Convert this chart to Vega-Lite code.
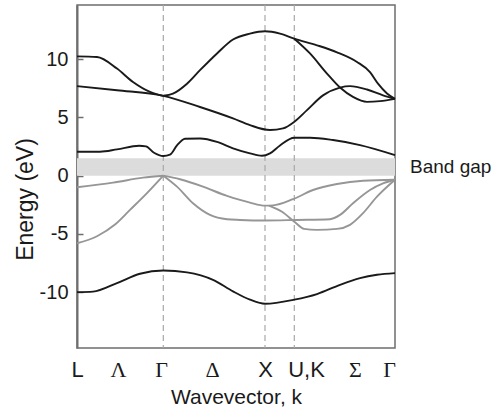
{
  "$schema": "https://vega.github.io/schema/vega-lite/v6.json",
  "width": 318,
  "height": 343,
  "autosize": {"type": "none"},
  "padding": {"left": 77, "top": 5, "right": 105, "bottom": 61},
  "background": "white",
  "config": {
    "font": "Liberation Sans",
    "view": {"stroke": "#6e6e6e", "strokeWidth": 1.5}
  },
  "datasets": {
    "bands": [
      {"series": "c1", "type": "c", "k": 0, "e": -10.0},
      {"series": "c1", "type": "c", "k": 16, "e": -9.96},
      {"series": "c1", "type": "c", "k": 40, "e": -9.22},
      {"series": "c1", "type": "c", "k": 63, "e": -8.42},
      {"series": "c1", "type": "c", "k": 86.3, "e": -8.14},
      {"series": "c1", "type": "c", "k": 110, "e": -8.3},
      {"series": "c1", "type": "c", "k": 136, "e": -8.94},
      {"series": "c1", "type": "c", "k": 156, "e": -9.94},
      {"series": "c1", "type": "c", "k": 173, "e": -10.65},
      {"series": "c1", "type": "c", "k": 188, "e": -11.0},
      {"series": "c1", "type": "c", "k": 217.3, "e": -10.65},
      {"series": "c1", "type": "c", "k": 240, "e": -10.17},
      {"series": "c1", "type": "c", "k": 263, "e": -9.37},
      {"series": "c1", "type": "c", "k": 283, "e": -8.8},
      {"series": "c1", "type": "c", "k": 300, "e": -8.51},
      {"series": "c1", "type": "c", "k": 318, "e": -8.37},

      {"series": "c2", "type": "c", "k": 0, "e": 2.06},
      {"series": "c2", "type": "c", "k": 23, "e": 2.06},
      {"series": "c2", "type": "c", "k": 40, "e": 2.26},
      {"series": "c2", "type": "c", "k": 62, "e": 2.57},
      {"series": "c2", "type": "c", "k": 69, "e": 2.52},
      {"series": "c2", "type": "c", "k": 77, "e": 1.97},
      {"series": "c2", "type": "c", "k": 86.3, "e": 1.69},
      {"series": "c2", "type": "c", "k": 93, "e": 1.8},
      {"series": "c2", "type": "c", "k": 100, "e": 2.6},
      {"series": "c2", "type": "c", "k": 108, "e": 3.17},
      {"series": "c2", "type": "c", "k": 123, "e": 3.2},
      {"series": "c2", "type": "c", "k": 140, "e": 2.91},
      {"series": "c2", "type": "c", "k": 156, "e": 2.35},
      {"series": "c2", "type": "c", "k": 173, "e": 1.92},
      {"series": "c2", "type": "c", "k": 185, "e": 1.71},
      {"series": "c2", "type": "c", "k": 193, "e": 1.92},
      {"series": "c2", "type": "c", "k": 203, "e": 2.6},
      {"series": "c2", "type": "c", "k": 217.3, "e": 3.26},
      {"series": "c2", "type": "c", "k": 233, "e": 3.26},
      {"series": "c2", "type": "c", "k": 256, "e": 3.06},
      {"series": "c2", "type": "c", "k": 283, "e": 2.63},
      {"series": "c2", "type": "c", "k": 318, "e": 1.77},

      {"series": "c3", "type": "c", "k": 0, "e": 7.69},
      {"series": "c3", "type": "c", "k": 40, "e": 7.34},
      {"series": "c3", "type": "c", "k": 86.3, "e": 6.86},
      {"series": "c3", "type": "c", "k": 123, "e": 5.9},
      {"series": "c3", "type": "c", "k": 156, "e": 4.92},
      {"series": "c3", "type": "c", "k": 173, "e": 4.34},
      {"series": "c3", "type": "c", "k": 193, "e": 3.92},
      {"series": "c3", "type": "c", "k": 206, "e": 4.06},
      {"series": "c3", "type": "c", "k": 217.3, "e": 4.63},
      {"series": "c3", "type": "c", "k": 230, "e": 5.63},
      {"series": "c3", "type": "c", "k": 246, "e": 6.9},
      {"series": "c3", "type": "c", "k": 263, "e": 7.57},
      {"series": "c3", "type": "c", "k": 273, "e": 7.69},
      {"series": "c3", "type": "c", "k": 290, "e": 7.4},
      {"series": "c3", "type": "c", "k": 306, "e": 6.9},
      {"series": "c3", "type": "c", "k": 318, "e": 6.6},

      {"series": "c4a", "type": "c", "k": 0, "e": 10.25},
      {"series": "c4a", "type": "c", "k": 20, "e": 10.2},
      {"series": "c4a", "type": "c", "k": 40, "e": 9.2},
      {"series": "c4a", "type": "c", "k": 56, "e": 8.05},
      {"series": "c4a", "type": "c", "k": 73, "e": 7.2},
      {"series": "c4a", "type": "c", "k": 86.3, "e": 6.86},

      {"series": "c4b", "type": "c", "k": 86.3, "e": 6.86},
      {"series": "c4b", "type": "c", "k": 96, "e": 7.05},
      {"series": "c4b", "type": "c", "k": 110, "e": 7.9},
      {"series": "c4b", "type": "c", "k": 123, "e": 9.06},
      {"series": "c4b", "type": "c", "k": 140, "e": 10.5},
      {"series": "c4b", "type": "c", "k": 156, "e": 11.7},
      {"series": "c4b", "type": "c", "k": 173, "e": 12.2},
      {"series": "c4b", "type": "c", "k": 188, "e": 12.4},
      {"series": "c4b", "type": "c", "k": 203, "e": 12.2},
      {"series": "c4b", "type": "c", "k": 217.3, "e": 11.77},
      {"series": "c4b", "type": "c", "k": 240, "e": 11.2},
      {"series": "c4b", "type": "c", "k": 260, "e": 10.6},
      {"series": "c4b", "type": "c", "k": 280, "e": 9.77},
      {"series": "c4b", "type": "c", "k": 293, "e": 8.9},
      {"series": "c4b", "type": "c", "k": 301, "e": 7.9},
      {"series": "c4b", "type": "c", "k": 310, "e": 7.06},
      {"series": "c4b", "type": "c", "k": 318, "e": 6.6},

      {"series": "c4c", "type": "c", "k": 217.3, "e": 11.77},
      {"series": "c4c", "type": "c", "k": 233, "e": 10.5},
      {"series": "c4c", "type": "c", "k": 250, "e": 8.77},
      {"series": "c4c", "type": "c", "k": 263, "e": 7.57},
      {"series": "c4c", "type": "c", "k": 276, "e": 6.77},
      {"series": "c4c", "type": "c", "k": 290, "e": 6.34},
      {"series": "c4c", "type": "c", "k": 303, "e": 6.4},
      {"series": "c4c", "type": "c", "k": 318, "e": 6.6},

      {"series": "v1", "type": "v", "k": 0, "e": -1.0},
      {"series": "v1", "type": "v", "k": 36, "e": -0.6},
      {"series": "v1", "type": "v", "k": 66, "e": -0.17},
      {"series": "v1", "type": "v", "k": 86.3, "e": 0},

      {"series": "v2", "type": "v", "k": 0, "e": -5.8},
      {"series": "v2", "type": "v", "k": 20, "e": -5.2},
      {"series": "v2", "type": "v", "k": 38, "e": -4.2},
      {"series": "v2", "type": "v", "k": 53, "e": -2.94},
      {"series": "v2", "type": "v", "k": 70, "e": -1.5},
      {"series": "v2", "type": "v", "k": 86.3, "e": 0},

      {"series": "v3", "type": "v", "k": 86.3, "e": 0},
      {"series": "v3", "type": "v", "k": 103, "e": -0.31},
      {"series": "v3", "type": "v", "k": 126, "e": -0.94},
      {"series": "v3", "type": "v", "k": 150, "e": -1.74},
      {"series": "v3", "type": "v", "k": 163, "e": -2.08},
      {"series": "v3", "type": "v", "k": 173, "e": -2.31},
      {"series": "v3", "type": "v", "k": 188, "e": -2.57},
      {"series": "v3", "type": "v", "k": 196, "e": -2.55},
      {"series": "v3", "type": "v", "k": 216, "e": -2.02},
      {"series": "v3", "type": "v", "k": 236, "e": -1.23},
      {"series": "v3", "type": "v", "k": 260, "e": -0.71},
      {"series": "v3", "type": "v", "k": 286, "e": -0.43},
      {"series": "v3", "type": "v", "k": 318, "e": -0.35},

      {"series": "v4", "type": "v", "k": 86.3, "e": 0},
      {"series": "v4", "type": "v", "k": 100, "e": -0.94},
      {"series": "v4", "type": "v", "k": 116, "e": -2.37},
      {"series": "v4", "type": "v", "k": 133, "e": -3.37},
      {"series": "v4", "type": "v", "k": 150, "e": -3.74},
      {"series": "v4", "type": "v", "k": 163, "e": -3.8},
      {"series": "v4", "type": "v", "k": 188, "e": -3.85},
      {"series": "v4", "type": "v", "k": 220, "e": -3.8},
      {"series": "v4", "type": "v", "k": 253, "e": -3.74},
      {"series": "v4", "type": "v", "k": 263, "e": -3.37},
      {"series": "v4", "type": "v", "k": 276, "e": -2.37},
      {"series": "v4", "type": "v", "k": 293, "e": -1.23},
      {"series": "v4", "type": "v", "k": 306, "e": -0.66},
      {"series": "v4", "type": "v", "k": 318, "e": -0.35},

      {"series": "v5", "type": "v", "k": 192, "e": -2.57},
      {"series": "v5", "type": "v", "k": 205, "e": -3.1},
      {"series": "v5", "type": "v", "k": 218, "e": -4.0},
      {"series": "v5", "type": "v", "k": 227, "e": -4.57},
      {"series": "v5", "type": "v", "k": 240, "e": -4.65},
      {"series": "v5", "type": "v", "k": 260, "e": -4.57},
      {"series": "v5", "type": "v", "k": 273, "e": -4.22},
      {"series": "v5", "type": "v", "k": 286, "e": -3.22},
      {"series": "v5", "type": "v", "k": 300, "e": -1.8},
      {"series": "v5", "type": "v", "k": 318, "e": -0.35}
    ],
    "gap": [{"k0": 0, "k1": 318, "e0": 0, "e1": 1.5}],
    "points": [{"k": 86.3}, {"k": 188}, {"k": 217.3}],
    "label": [{"k": 318, "e": 0.75, "text": "Band gap"}]
  },
  "layer": [
    {
      "data": {"name": "gap"},
      "mark": {"type": "rect", "color": "#dcdcdc"},
      "encoding": {
        "x": {"field": "k0", "type": "quantitative",
          "scale": {"domain": [0, 318], "nice": false, "zero": false},
          "axis": {
            "values": [0, 41, 84, 135, 188, 229, 278, 312],
            "labelExpr": "datum.value == 0 ? 'L' : datum.value == 41 ? 'Λ' : datum.value == 84 ? 'Γ' : datum.value == 135 ? 'Δ' : datum.value == 188 ? 'X' : datum.value == 229 ? 'U,K' : datum.value == 278 ? 'Σ' : 'Γ'",
            "labelFont": {"condition": {"test": "datum.value == 41 || datum.value == 84 || datum.value == 135 || datum.value == 278 || datum.value == 312", "value": "Liberation Serif"}, "value": "Liberation Sans"},
            "labelFontSize": 22,
            "labelColor": "#1a1a1a",
            "labelPadding": 11,
            "labelBaseline": "top",
            "labelFlush": false,
            "labelOverlap": false,
            "labelBound": false,
            "ticks": false,
            "domain": false,
            "grid": false,
            "title": "Wavevector, k",
            "titleFontSize": 21,
            "titleFontWeight": "normal",
            "titleColor": "#1a1a1a",
            "titleBaseline": "alphabetic",
            "titleX": 159,
            "titleY": 55
          }
        },
        "x2": {"field": "k1"},
        "y": {"field": "e0", "type": "quantitative",
          "scale": {"domain": [-14.8, 14.66], "nice": false, "zero": false},
          "axis": {
            "values": [-10, -5, 0, 5, 10],
            "labelExpr": "'' + datum.value",
            "labelFontSize": 20,
            "labelColor": "#1a1a1a",
            "tickSize": -6,
            "tickColor": "#6e6e6e",
            "tickWidth": 1.5,
            "labelPadding": 15,
            "domainColor": "#6e6e6e",
            "domainWidth": 2,
            "grid": false,
            "title": "Energy (eV)",
            "titleFontSize": 23,
            "titleFontWeight": "normal",
            "titleColor": "#1a1a1a",
            "titleBaseline": "alphabetic",
            "titleAngle": -90,
            "titleX": -45,
            "titleY": 194
          }
        },
        "y2": {"field": "e1"}
      }
    },
    {
      "data": {"name": "points"},
      "mark": {"type": "rule", "color": "#a8a8a8", "strokeWidth": 1.2, "strokeDash": [6, 4]},
      "encoding": {
        "x": {"field": "k", "type": "quantitative"}
      }
    },
    {
      "data": {"name": "bands"},
      "mark": {"type": "line", "interpolate": "monotone", "strokeWidth": 1.9},
      "encoding": {
        "x": {"field": "k", "type": "quantitative"},
        "y": {"field": "e", "type": "quantitative"},
        "detail": {"field": "series"},
        "color": {"field": "type", "type": "nominal",
          "scale": {"domain": ["c", "v"], "range": ["#1a1a1a", "#969696"]},
          "legend": null}
      }
    },
    {
      "data": {"name": "label"},
      "mark": {"type": "text", "align": "left", "baseline": "middle", "dx": 15, "fontSize": 19, "color": "#1a1a1a"},
      "encoding": {
        "x": {"field": "k", "type": "quantitative"},
        "y": {"field": "e", "type": "quantitative"},
        "text": {"field": "text"}
      }
    }
  ]
}
